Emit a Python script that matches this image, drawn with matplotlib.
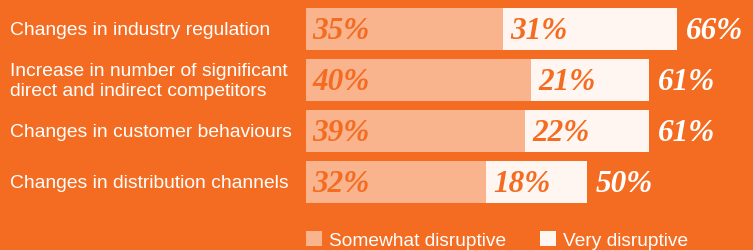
import matplotlib
matplotlib.use("Agg")
import matplotlib.pyplot as plt
import matplotlib.transforms as mtransforms
from matplotlib.patches import Patch
import numpy as np

# data
categories = ["Changes in industry regulation",
              "Increase in number of significant\ndirect and indirect competitors",
              "Changes in customer behaviours",
              "Changes in distribution channels"]
somewhat = [35, 40, 39, 32]
very = [31, 21, 22, 18]
totals = [66, 61, 61, 50]
series_names = ["Somewhat disruptive", "Very disruptive"]

BG = "#F36C21"
PEACH = "#F9B48D"
WHITE = "#FFF6F2"

W, H = 753, 251
fig = plt.figure(figsize=(W / 100, H / 100), dpi=100, facecolor=BG)

px_per_pct = 5.62
x0 = 306
ax = fig.add_axes([x0 / W, 0, 1 - x0 / W, 1])
ax.set_facecolor(BG)
ax.set_xlim(0, (W - x0) / px_per_pct)
pitch = 51
top = 30 / pitch
ax.set_ylim(H / pitch - top, -top)
ax.axis("off")

y = np.arange(len(categories))
bh = 42 / pitch
ax.barh(y, somewhat, height=bh, color=PEACH, lw=0)
ax.barh(y, very, left=somewhat, height=bh, color=WHITE, lw=0)

numfont = dict(family="Liberation Serif", weight="bold", style="italic", size=22.5)
off = 9.5 / pitch   # baseline below bar centre
for i in range(len(categories)):
    ax.text(1.2, y[i] + off, f"{somewhat[i]}%", color=BG, va="baseline", ha="left", **numfont)
    ax.text(somewhat[i] + 1.3, y[i] + off, f"{very[i]}%", color=BG, va="baseline", ha="left", **numfont)
    ax.text(totals[i] + 1.6, y[i] + off, f"{totals[i]}%", color="white", va="baseline", ha="left", **numfont)

trans = mtransforms.blended_transform_factory(fig.transFigure, ax.transData)
for i, lab in enumerate(categories):
    fig.text(10 / W, y[i] + 0.01, lab, transform=trans, color="white", va="center", ha="left",
             family="Liberation Sans", size=13.9, linespacing=1.2)

handles = [Patch(facecolor=PEACH, lw=0), Patch(facecolor=WHITE, lw=0)]
fig.legend(handles, series_names, loc="lower left", bbox_to_anchor=(x0 / W, 0.5 / H),
           ncol=2, frameon=False, borderpad=0, borderaxespad=0,
           handlelength=0.84, handleheight=0.84,
           handletextpad=0.37, columnspacing=1.76,
           prop=dict(family="Liberation Sans", size=13.8), labelcolor="white")

fig.savefig("out.png", dpi=100, facecolor=BG)
